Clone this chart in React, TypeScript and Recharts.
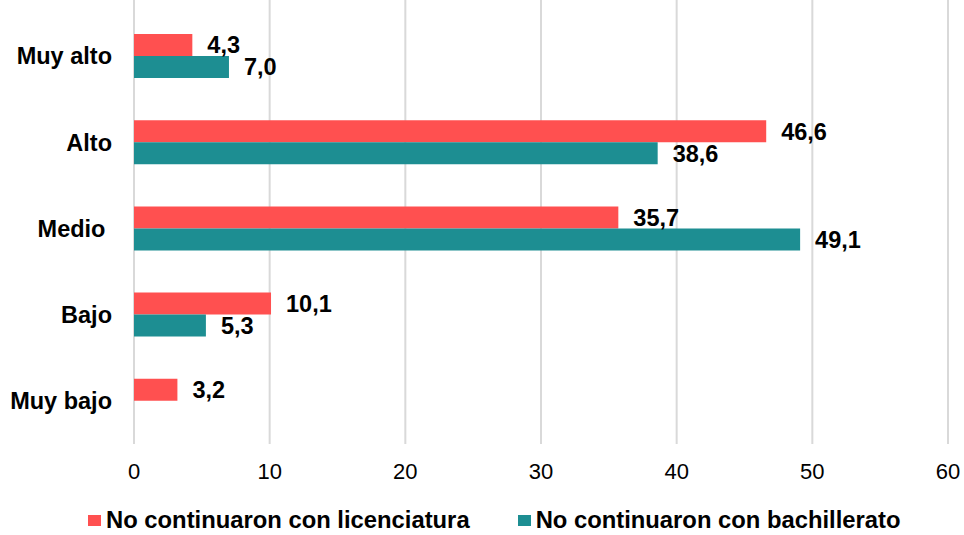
import {
    Bar,
    BarChart,
    CartesianGrid,
    LabelList,
    Legend,
    XAxis,
    YAxis,
} from 'recharts';

const categories = ['Muy alto', 'Alto', 'Medio ', 'Bajo', 'Muy bajo'];
const licenciatura = [4.3, 46.6, 35.7, 10.1, 3.2];
const bachillerato: (number | null)[] = [7.0, 38.6, 49.1, 5.3, null];
const xTicks = [0, 10, 20, 30, 40, 50, 60];

const seriesNames = {
    lic: 'No continuaron con licenciatura',
    bach: 'No continuaron con bachillerato',
};

const RED = '#FF5050';
const TEAL = '#1D8E92';
const FONT = '"Liberation Sans", Arial, sans-serif';

const data = categories.map((name, i) => ({
    name,
    lic: licenciatura[i],
    bach: bachillerato[i],
}));

const fmt = (v: unknown) =>
    v === null || v === undefined ? '' : Number(v).toFixed(1).replace('.', ',');

function LegendBox() {
    const items = [
        { label: seriesNames.lic, color: RED },
        { label: seriesNames.bach, color: TEAL },
    ];
    return (
        <div
            style={{
                display: 'flex',
                alignItems: 'center',
                height: 20,
                width: 860,
                fontFamily: FONT,
            }}
        >
            {items.map((it, i) => (
                <div
                    key={it.label}
                    style={{
                        display: 'flex',
                        alignItems: 'center',
                        flexShrink: 0,
                        marginRight: i === 0 ? 48 : 0,
                    }}
                >
                    <span
                        style={{
                            display: 'inline-block',
                            width: 13,
                            height: 11,
                            background: it.color,
                            marginRight: 5,
                        }}
                    />
                    <span
                        style={{
                            fontSize: 23.8,
                            lineHeight: '20px',
                            fontWeight: 'bold',
                            color: '#000',
                            whiteSpace: 'nowrap',
                        }}
                    >
                        {it.label}
                    </span>
                </div>
            ))}
        </div>
    );
}

export default function App() {
    return (
        <div style={{ position: 'absolute', left: 0, top: 0, background: '#fff' }}>
            <BarChart
                width={964}
                height={535}
                data={data}
                layout="vertical"
                barGap={0}
                margin={{ top: 0, right: 16, left: 0, bottom: 21 }}
            >
                <CartesianGrid horizontal={false} stroke="#D9D9D9" strokeWidth={2} />
                <XAxis
                    type="number"
                    domain={[0, 60]}
                    ticks={xTicks}
                    axisLine={false}
                    tickLine={false}
                    tickSize={0}
                    tickMargin={19}
                    height={50}
                    tick={{ fill: '#000', fontSize: 22, fontFamily: FONT }}
                />
                <YAxis
                    type="category"
                    dataKey="name"
                    width={134}
                    axisLine={false}
                    tickLine={false}
                    tickSize={0}
                    tickMargin={22}
                    padding={{ top: 13, bottom: 0 }}
                    tick={{
                        fill: '#000',
                        fontSize: 23.5,
                        fontWeight: 'bold',
                        fontFamily: FONT,
                        style: { whiteSpace: 'pre' },
                    }}
                />
                <Legend
                    content={() => <LegendBox />}
                    verticalAlign="bottom"
                    wrapperStyle={{ left: 88, top: 510, bottom: 'auto', width: 860 }}
                />
                <Bar dataKey="lic" name={seriesNames.lic} fill={RED} barSize={22} isAnimationActive={false}>
                    <LabelList
                        dataKey="lic"
                        position="right"
                        offset={15}
                        formatter={fmt}
                        style={{ fill: '#000', fontSize: 23.5, fontWeight: 'bold', fontFamily: FONT }}
                    />
                </Bar>
                <Bar dataKey="bach" name={seriesNames.bach} fill={TEAL} barSize={22} isAnimationActive={false}>
                    <LabelList
                        dataKey="bach"
                        position="right"
                        offset={15}
                        formatter={fmt}
                        style={{ fill: '#000', fontSize: 23.5, fontWeight: 'bold', fontFamily: FONT }}
                    />
                </Bar>
            </BarChart>
        </div>
    );
}
